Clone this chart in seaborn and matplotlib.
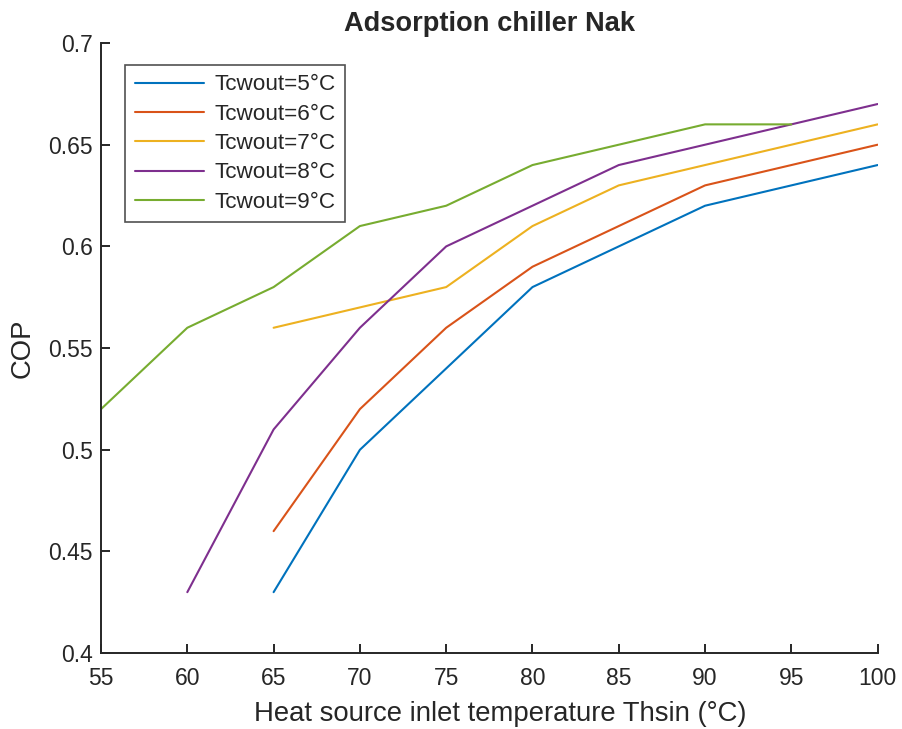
import matplotlib
matplotlib.use("Agg")
import matplotlib.pyplot as plt
import seaborn as sns
import pandas as pd

x_5 = [65, 70, 75, 80, 85, 90, 95, 100]
y_5 = [0.43, 0.50, 0.54, 0.58, 0.60, 0.62, 0.63, 0.64]
x_6 = [65, 70, 75, 80, 85, 90, 95, 100]
y_6 = [0.46, 0.52, 0.56, 0.59, 0.61, 0.63, 0.64, 0.65]
x_7 = [65, 70, 75, 80, 85, 90, 95, 100]
y_7 = [0.56, 0.57, 0.58, 0.61, 0.63, 0.64, 0.65, 0.66]
x_8 = [60, 65, 70, 75, 80, 85, 90, 95, 100]
y_8 = [0.43, 0.51, 0.56, 0.60, 0.62, 0.64, 0.65, 0.66, 0.67]
x_9 = [55, 60, 65, 70, 75, 80, 85, 90, 95]
y_9 = [0.52, 0.56, 0.58, 0.61, 0.62, 0.64, 0.65, 0.66, 0.66]
labels = ["Tcwout=5°C", "Tcwout=6°C", "Tcwout=7°C", "Tcwout=8°C", "Tcwout=9°C"]
colors = ["#0072BD", "#D95319", "#EDB120", "#7E2F8E", "#77AC30"]
x_ticks = [55, 60, 65, 70, 75, 80, 85, 90, 95, 100]
y_ticks = [0.4, 0.45, 0.5, 0.55, 0.6, 0.65, 0.7]

frames = []
for lab, xs, ys in zip(labels, [x_5, x_6, x_7, x_8, x_9], [y_5, y_6, y_7, y_8, y_9]):
    frames.append(pd.DataFrame({"x": xs, "y": ys, "series": lab}))
df = pd.concat(frames, ignore_index=True)

sns.set_style("ticks", {"xtick.direction": "in", "ytick.direction": "in"})
plt.rcParams["font.family"] = ["Liberation Sans", "DejaVu Sans"]
plt.rcParams["xtick.direction"] = "in"
plt.rcParams["ytick.direction"] = "in"

fig = plt.figure(figsize=(9.02, 7.29), dpi=100)
ax = fig.add_axes([0.112, 0.104, 0.861, 0.837])
sns.lineplot(data=df, x="x", y="y", hue="series", hue_order=labels,
             palette=colors, linewidth=1.5, ax=ax, estimator=None, sort=False)

ax.set_xlim(55, 100)
ax.set_ylim(0.4, 0.7)
ax.set_xticks(x_ticks)
ax.set_xticklabels([str(v) for v in x_ticks])
ax.set_yticks(y_ticks)
ax.set_yticklabels([f"{v:g}" for v in y_ticks])
ax.tick_params(axis="both", which="major", bottom=True, left=True, top=False, right=False,
               direction="in", length=6.5, width=1.4, labelsize=16.5,
               colors="#262626", labelcolor="#262626")
ax.tick_params(axis="x", pad=10)
ax.tick_params(axis="y", pad=6)
for s in ["top", "right"]:
    ax.spines[s].set_visible(False)
for s in ["left", "bottom"]:
    ax.spines[s].set_color("#262626")
    ax.spines[s].set_linewidth(1.4)

ax.set_xlabel("Heat source inlet temperature Thsin (°C)", fontsize=19.8, color="#262626")
ax.xaxis.set_label_coords(0.514, -0.079)
ax.set_ylabel("COP", fontsize=19.8, color="#262626", labelpad=9)
ax.set_title("Adsorption chiller Nak", fontsize=19.6, fontweight="bold", pad=9)

leg = ax.legend(loc="upper left", bbox_to_anchor=(0.031, 0.964), borderaxespad=0,
                fontsize=16.2, frameon=True, fancybox=False, edgecolor="#262626",
                handlelength=3.1, handletextpad=0.45, labelspacing=0.37,
                borderpad=0.42)
leg.get_frame().set_linewidth(1.2)
for line in leg.get_lines():
    line.set_linewidth(1.5)

fig.savefig("out.png", dpi=100)
